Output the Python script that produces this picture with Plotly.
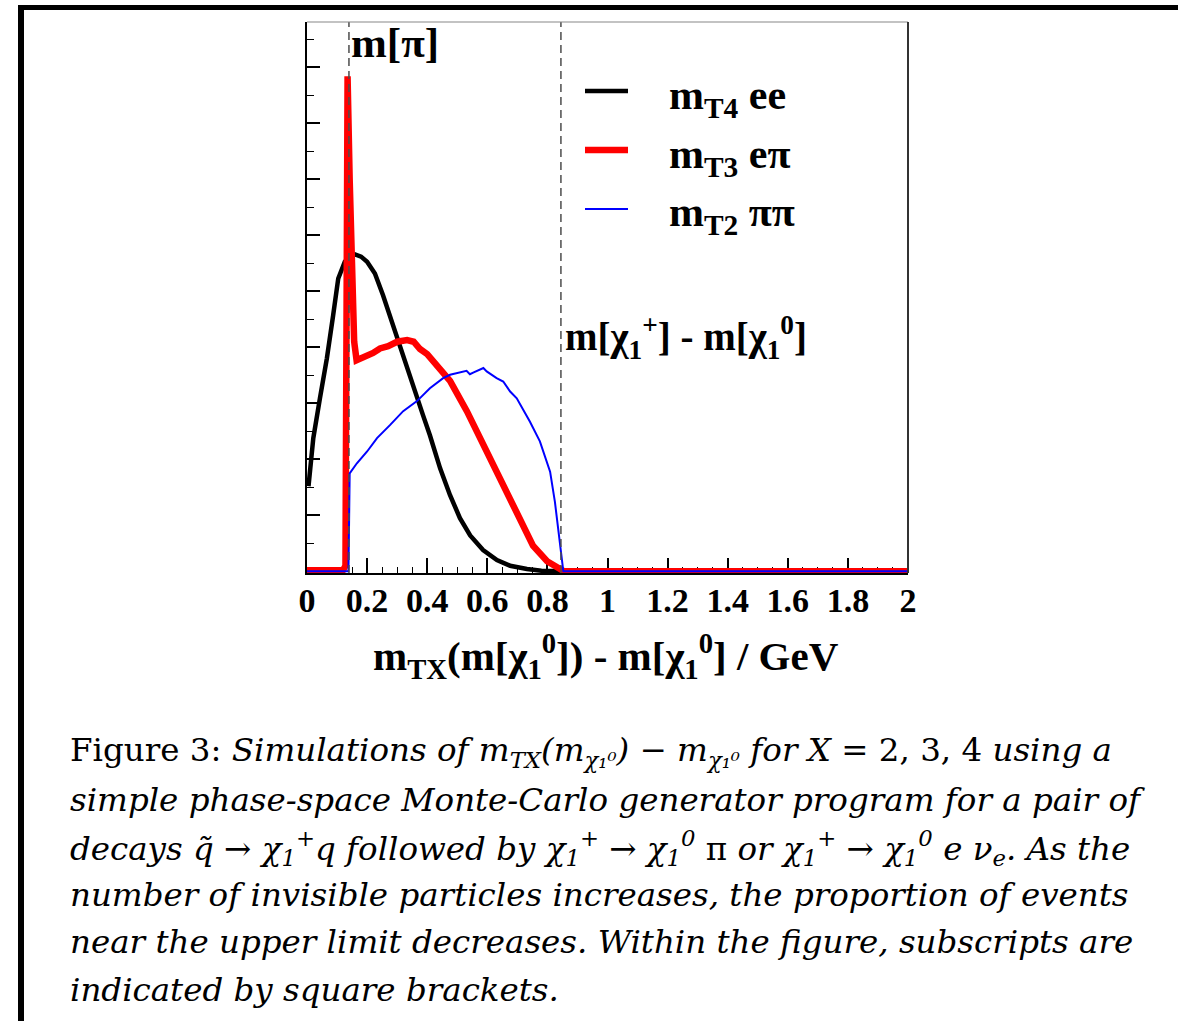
import plotly.graph_objects as go

# ---------------- data ----------------
x_ee = [0.005, 0.021, 0.043, 0.066, 0.087, 0.104, 0.126, 0.145, 0.16, 0.18, 0.2, 0.226,
        0.253, 0.286, 0.32, 0.353, 0.386, 0.409, 0.443, 0.476, 0.509, 0.543, 0.586,
        0.632, 0.676, 0.732, 0.78, 0.85, 1.0, 1.5, 2.0]
y_ee = [1.52, 2.38, 3.09, 3.8, 4.57, 5.23, 5.53, 5.62, 5.66, 5.62, 5.53, 5.32,
        4.93, 4.39, 3.86, 3.27, 2.79, 2.43, 1.84, 1.36, 0.95, 0.64, 0.38,
        0.2, 0.1, 0.04, 0.01, 0.0, 0.0, 0.0, 0.0]

x_epi = [0.0, 0.12, 0.128, 0.135, 0.142, 0.15, 0.157, 0.165, 0.18, 0.2, 0.22, 0.243,
         0.27, 0.3, 0.333, 0.355, 0.376, 0.4, 0.42, 0.432, 0.476, 0.532, 0.576, 0.619,
         0.666, 0.709, 0.752, 0.799, 0.832, 0.855, 1.0, 1.5, 2.0]
y_epi = [0.02, 0.02, 0.1, 8.84, 7.0, 4.8, 4.1, 3.77, 3.8, 3.86, 3.9, 3.98,
         4.02, 4.1, 4.13, 4.1, 3.97, 3.88, 3.75, 3.69, 3.4, 2.86, 2.38, 1.89,
         1.36, 0.89, 0.46, 0.18, 0.09, 0.0, 0.0, 0.0, 0.0]

x_pipi = [0.0, 0.138, 0.142, 0.166, 0.2, 0.233, 0.276, 0.32, 0.366, 0.409, 0.453, 0.476,
          0.531, 0.542, 0.553, 0.587, 0.598, 0.631, 0.653, 0.676, 0.698, 0.742, 0.775,
          0.809, 0.825, 0.836, 0.848, 0.853, 1.0, 1.5, 2.0]
y_pipi = [0.0, 0.0, 1.75, 1.93, 2.14, 2.38, 2.61, 2.86, 3.04, 3.27, 3.45, 3.51,
          3.58, 3.52, 3.55, 3.63, 3.57, 3.45, 3.39, 3.21, 3.09, 2.67, 2.32,
          1.78, 1.24, 0.77, 0.17, 0.0, 0.0, 0.0, 0.0]

series_names = ["m<sub>T4</sub> ee", "m<sub>T3</sub> eπ", "m<sub>T2</sub> ππ"]
series_colors = ["black", "#ff0000", "#0000ff"]
series_widths = [4.5, 6.5, 2]

m_pi = 0.1396          # m[pi]
m_split = 0.845        # m[chi1+] - m[chi1^0]

x_tickvals = [0, 0.2, 0.4, 0.6, 0.8, 1.0, 1.2, 1.4, 1.6, 1.8, 2.0]
x_ticktext = ["0", "0.2", "0.4", "0.6", "0.8", "1", "1.2", "1.4", "1.6", "1.8", "2"]

caption_lines = [
    "Figure 3: <i>Simulations of m<sub>TX</sub>(m<sub>χ₁⁰</sub>) − m<sub>χ₁⁰</sub> for X</i> = 2, 3, 4 <i>using a</i>",
    "<i>simple phase-space Monte-Carlo generator program for a pair of</i>",
    "<i>decays q̃ → χ<sub>1</sub><sup>+</sup>q followed by χ<sub>1</sub><sup>+</sup> → χ<sub>1</sub><sup>0</sup></i> π <i>or χ<sub>1</sub><sup>+</sup> → χ<sub>1</sub><sup>0</sup> e ν<sub>e</sub>. As the</i>",
    "<i>number of invisible particles increases, the proportion of events</i>",
    "<i>near the upper limit decreases. Within the figure, subscripts are</i>",
    "<i>indicated by square brackets.</i>",
]

# ---------------- layout geometry ----------------
W, H = 1178, 1021
ML, MR, MT, MB = 307, 270, 22, 448
PW = W - ML - MR
PH = H - MT - MB


def px(x):
    return (x - ML) / PW


def py(y):
    return (H - MB - y) / PH


SERIF = "Liberation Serif"

fig = go.Figure()
for xs, ys, nm, c, w in [(x_ee, y_ee, series_names[0], series_colors[0], series_widths[0]),
                         (x_epi, y_epi, series_names[1], series_colors[1], series_widths[1]),
                         (x_pipi, y_pipi, series_names[2], series_colors[2], series_widths[2])]:
    fig.add_trace(go.Scatter(x=xs, y=ys, mode="lines", name=nm,
                             line=dict(color=c, width=w), showlegend=False,
                             hoverinfo="skip"))

shapes = []
# dashed marker lines
for xv in (m_pi, m_split):
    shapes.append(dict(type="line", xref="x", yref="paper", x0=xv, x1=xv, y0=0, y1=1,
                       line=dict(color="#4d4d4d", width=1.5, dash="8px,5px")))
# top and right frame of the plot
shapes.append(dict(type="line", xref="paper", yref="paper", x0=0, x1=1, y0=1, y1=1,
                   line=dict(color="#888888", width=1.2)))
shapes.append(dict(type="line", xref="paper", yref="paper", x0=1, x1=1, y0=0, y1=1,
                   line=dict(color="#333333", width=2)))
# legend line samples
leg_y = [91, 150, 209]
for i in range(3):
    shapes.append(dict(type="line", xref="paper", yref="paper", x0=px(585), x1=px(628),
                       y0=py(leg_y[i]), y1=py(leg_y[i]),
                       line=dict(color=series_colors[i], width=series_widths[i])))
# page frame (black border at top and left)
shapes.append(dict(type="line", xref="paper", yref="paper", x0=px(18), x1=px(1180),
                   y0=py(7.5), y1=py(7.5), line=dict(color="black", width=5)))
shapes.append(dict(type="line", xref="paper", yref="paper", x0=px(21), x1=px(21),
                   y0=py(5), y1=py(1025), line=dict(color="black", width=6)))

annotations = []
# legend texts
leg_text_y = [98, 157, 215]
for i in range(3):
    annotations.append(dict(xref="paper", yref="paper", x=px(667), y=py(leg_text_y[i]),
                            xanchor="left", yanchor="middle", showarrow=False,
                            text="<b>" + series_names[i] + "</b>",
                            font=dict(family=SERIF, size=42, color="black")))
annotations.append(dict(xref="paper", yref="paper", x=px(349), y=py(43),
                        xanchor="left", yanchor="middle", showarrow=False,
                        text="<b>m[π]</b>", font=dict(family=SERIF, size=43, color="black")))
annotations.append(dict(xref="paper", yref="paper", x=px(563), y=py(337),
                        xanchor="left", yanchor="middle", showarrow=False,
                        text="<b>m[χ<sub>1</sub><sup>+</sup>] - m[χ<sub>1</sub><sup>0</sup>]</b>",
                        font=dict(family=SERIF, size=39, color="black")))
# x axis title
annotations.append(dict(xref="paper", yref="paper", x=px(606), y=py(656),
                        xanchor="center", yanchor="middle", showarrow=False,
                        text="<b>m<sub>TX</sub>(m[χ<sub>1</sub><sup>0</sup>]) - m[χ<sub>1</sub><sup>0</sup>] / GeV</b>",
                        font=dict(family=SERIF, size=41, color="black")))
# caption
cap_y = [752, 800, 848, 895, 942, 990]
for t, yy in zip(caption_lines, cap_y):
    annotations.append(dict(xref="paper", yref="paper", x=px(68), y=py(yy),
                            xanchor="left", yanchor="middle", showarrow=False,
                            text=t, font=dict(family="DejaVu Serif", size=32.5, color="black")))

fig.update_layout(
    width=W, height=H,
    margin=dict(l=ML, r=MR, t=MT, b=MB, pad=0),
    paper_bgcolor="white", plot_bgcolor="white",
    showlegend=False,
    shapes=shapes, annotations=annotations,
    xaxis=dict(range=[0, 2], showgrid=False, zeroline=False,
               showline=True, linecolor="black", linewidth=2, layer="below traces",
               ticks="inside", ticklen=15, tickwidth=1.5, tickcolor="black",
               tickvals=x_tickvals, ticktext=x_ticktext,
               tickfont=dict(family=SERIF, size=34, color="black", weight="bold"),
               ticklabelstandoff=-4,
               minor=dict(ticks="inside", ticklen=6, dtick=0.05, tick0=0,
                          tickcolor="black", tickwidth=1, showgrid=False)),
    yaxis=dict(range=[-0.03, 9.81], showgrid=False, zeroline=False,
               showline=True, linecolor="black", linewidth=2, layer="below traces",
               ticks="inside", ticklen=13, tickwidth=1.5, tickcolor="black",
               dtick=1, tick0=0, showticklabels=False,
               minor=dict(ticks="inside", ticklen=7, dtick=0.5, tick0=0,
                          tickcolor="black", tickwidth=1, showgrid=False)),
)

fig.write_html("out.html")
